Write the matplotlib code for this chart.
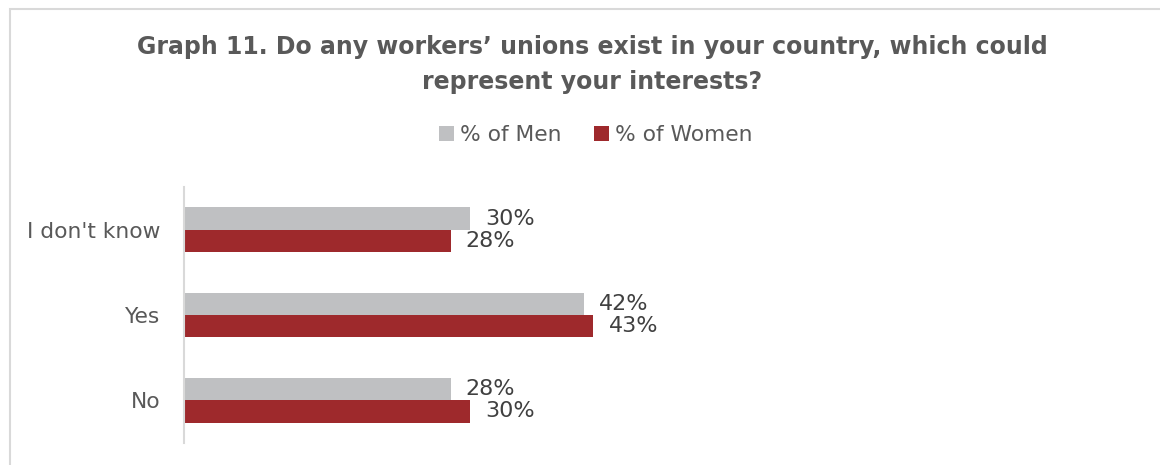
import numpy as np
import matplotlib.pyplot as plt
from matplotlib.patches import Rectangle

# survey answers, bottom to top as drawn
categories = ["No", "Yes", "I don't know"]
men = [28, 42, 30]
women = [30, 43, 28]
series_names = ["% of Men", "% of Women"]

grey = "#BFC0C2"
red = "#9E292C"
text_grey = "#595959"

W, H = 1160, 465
fig = plt.figure(figsize=(W / 100, H / 100), dpi=100)

# light frame around the chart area
fig.patches.append(Rectangle((9.5 / W, -0.1), 1.2, 1 - 9 / H + 0.1,
                             transform=fig.transFigure, fill=False,
                             edgecolor="#D9D9D9", linewidth=1.5))

ax = fig.add_axes([184 / W, 1 - 443 / H, 952 / W, 256 / H])

y = np.arange(len(categories))
h = 0.26
bars_m = ax.barh(y + h / 2, men, height=h, color=grey, label=series_names[0])
bars_w = ax.barh(y - h / 2, women, height=h, color=red, label=series_names[1])

for bars, vals in ((bars_m, men), (bars_w, women)):
    for b, v in zip(bars, vals):
        ax.text(v + 1.6, b.get_y() + b.get_height() / 2, f"{v}%",
                va="center", ha="left", fontsize=16, color="#404040")

ax.set_xlim(0, 100)
ax.set_ylim(-0.5, 2.5)
ax.set_yticks(y)
ax.set_yticklabels(categories, fontsize=15.7, color=text_grey)
ax.tick_params(axis="y", length=0, pad=17)
ax.set_xticks([])
for s in ("top", "right", "bottom"):
    ax.spines[s].set_visible(False)
ax.spines["left"].set_color("#D9D9D9")
ax.spines["left"].set_linewidth(1.5)

cx = 592 / W
fig.text(cx, 1 - 47 / H, "Graph 11. Do any workers\u2019 unions exist in your country, which could",
         ha="center", va="center", fontsize=17, fontweight="bold", color=text_grey)
fig.text(cx, 1 - 82 / H, "represent your interests?",
         ha="center", va="center", fontsize=17, fontweight="bold", color=text_grey)

fig.legend(handles=[bars_m, bars_w], loc="center", bbox_to_anchor=(596 / W, 1 - 135 / H),
           ncol=2, frameon=False, fontsize=15.7, labelcolor=text_grey,
           handlelength=0.65, handleheight=0.65, handletextpad=0.3, columnspacing=1.5)

fig.savefig("out.png", dpi=100)
